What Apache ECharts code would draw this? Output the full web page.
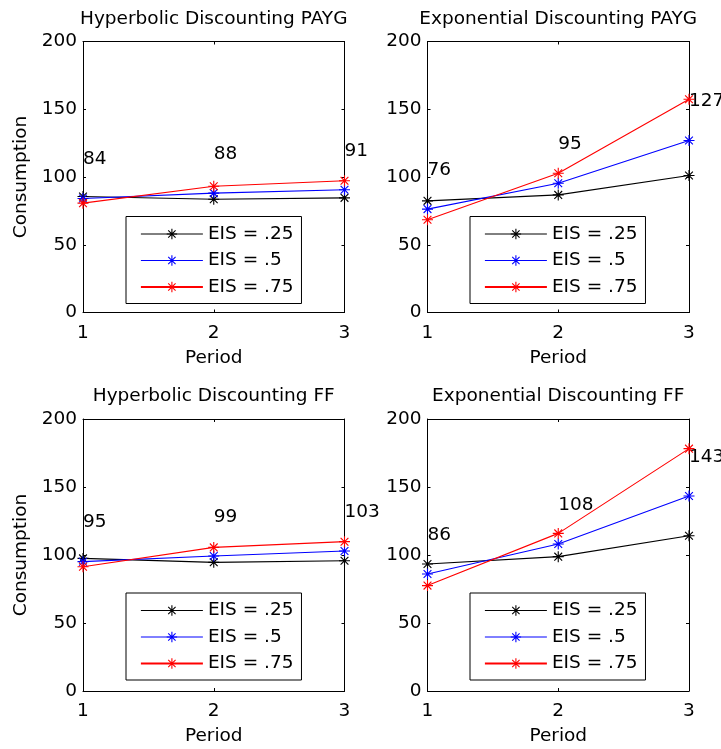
<!DOCTYPE html>
<html><head><meta charset="utf-8">
<script src="https://cdn.jsdelivr.net/npm/echarts@6/dist/echarts.min.js"></script>
<style>html,body{margin:0;padding:0;background:#fff}#c{width:721px;height:749px}</style>
</head><body><div id="c"></div>
<script>
const periods = [1, 2, 3];
const seriesNames = ['EIS = .25', 'EIS = .5', 'EIS = .75'];
const panelTitles = ['Hyperbolic Discounting PAYG', 'Exponential Discounting PAYG', 'Hyperbolic Discounting FF', 'Exponential Discounting FF'];
const yTicks = [0, 50, 100, 150, 200];

const hypPaygEis25 = [85.6, 83.6, 84.6];
const hypPaygEis50 = [84.1, 88.1, 90.6];
const hypPaygEis75 = [80.7, 93.2, 97.2];
const hypPaygLabels = [84, 88, 91];

const expPaygEis25 = [82.4, 86.8, 101.1];
const expPaygEis50 = [76.3, 95.4, 126.9];
const expPaygEis75 = [68.4, 102.8, 157.4];
const expPaygLabels = [76, 95, 127];

const hypFfEis25 = [97.5, 94.6, 95.8];
const hypFfEis50 = [95.1, 99.3, 102.9];
const hypFfEis75 = [91.4, 105.6, 109.8];
const hypFfLabels = [95, 99, 103];

const expFfEis25 = [93.4, 98.8, 114.2];
const expFfEis50 = [86.0, 108.1, 143.4];
const expFfEis75 = [77.5, 115.9, 178.2];
const expFfLabels = [86, 108, 143];

const panels = [
  {vals: [hypPaygEis25, hypPaygEis50, hypPaygEis75], labels: hypPaygLabels},
  {vals: [expPaygEis25, expPaygEis50, expPaygEis75], labels: expPaygLabels},
  {vals: [hypFfEis25, hypFfEis50, hypFfEis75], labels: hypFfLabels},
  {vals: [expFfEis25, expFfEis50, expFfEis75], labels: expFfLabels}
];

const colors = ['#000000', '#0000ff', '#ff0000'];
const legendLineWidths = [1, 1, 1.8];
const FONT = 'DejaVu Sans';
const FS = 18.5;
const gridPos = [
  {left: 83, top: 41.5, width: 261.5, height: 271},
  {left: 427.5, top: 41.5, width: 261.5, height: 271},
  {left: 83, top: 419, width: 261.5, height: 272},
  {left: 427.5, top: 419, width: 261.5, height: 272}
];
const legendPos = [
  {left: 126, top: 216.5}, {left: 470, top: 216.5},
  {left: 126, top: 593}, {left: 470, top: 593}
];
const star = 'path://M0,-10L0,10M-10,0L10,0M-7.07,-7.07L7.07,7.07M-7.07,7.07L7.07,-7.07';
const axisLine = {show: true, onZero: false, lineStyle: {color: '#000', width: 1}};
const tick = {show: true, inside: true, length: 3, lineStyle: {color: '#000', width: 1}};
const txt = {fontFamily: FONT, fontSize: FS, color: '#000'};

const legendData = seriesNames.map((n, k) => ({
  name: n,
  lineStyle: {color: colors[k], width: legendLineWidths[k], opacity: 1},
  itemStyle: {color: colors[k], borderColor: colors[k], borderWidth: 1.1}
}));

const grid = [], xAxis = [], yAxis = [], series = [], legend = [];
panels.forEach((p, i) => {
  grid.push(Object.assign({containLabel: false}, gridPos[i]));
  xAxis.push({type: 'value', gridIndex: i, min: 1, max: 3, interval: 1, position: 'bottom',
    axisLine, axisTick: tick, splitLine: {show: false},
    axisLabel: Object.assign({margin: 11}, txt),
    name: 'Period', nameLocation: 'middle', nameGap: 36, nameTextStyle: txt});
  xAxis.push({type: 'value', gridIndex: i, min: 1, max: 3, interval: 1, position: 'top',
    axisLine, axisTick: tick, splitLine: {show: false}, axisLabel: {show: false},
    name: panelTitles[i], nameLocation: 'middle', nameGap: 13, nameTextStyle: txt});
  yAxis.push({type: 'value', gridIndex: i, min: 0, max: 200, interval: 50, position: 'left',
    axisLine, axisTick: tick, splitLine: {show: false},
    axisLabel: Object.assign({margin: 6}, txt),
    name: (i % 2 === 0) ? 'Consumption' : '', nameLocation: 'middle', nameGap: 52, nameRotate: 90, nameTextStyle: txt});
  yAxis.push({type: 'value', gridIndex: i, min: 0, max: 200, interval: 50, position: 'right',
    axisLine, axisTick: tick, splitLine: {show: false}, axisLabel: {show: false}});
  p.vals.forEach((v, k) => {
    const s = {
      type: 'line', name: seriesNames[k], xAxisIndex: 2 * i, yAxisIndex: 2 * i,
      data: periods.map((x, j) => [x, v[j]]),
      symbol: star, symbolSize: 11, showAllSymbol: true,
      lineStyle: {color: colors[k], width: 1.1},
      itemStyle: {color: colors[k], borderColor: colors[k], borderWidth: 1.1},
      emphasis: {disabled: true}, animation: false, clip: false, z: 3 + k
    };
    if (k === 1) {
      s.label = {show: true, position: 'inside', align: 'left', verticalAlign: 'middle',
        offset: [0, -39], fontFamily: FONT, fontSize: FS, color: '#000',
        formatter: (prm) => String(p.labels[prm.dataIndex])};
    }
    series.push(s);
  });
  legend.push({
    data: legendData, orient: 'vertical', left: legendPos[i].left, top: legendPos[i].top,
    backgroundColor: '#fff', borderColor: '#000', borderWidth: 1, borderRadius: 0,
    padding: [8, 8, 7, 14], itemWidth: 62, itemHeight: 13, itemGap: 7.5,
    textStyle: txt, selectedMode: false, z: 10
  });
});

const chart = echarts.init(document.getElementById('c'), null, {renderer: 'canvas'});
chart.setOption({animation: false, backgroundColor: '#fff', grid, xAxis, yAxis, series, legend});
</script></body></html>
